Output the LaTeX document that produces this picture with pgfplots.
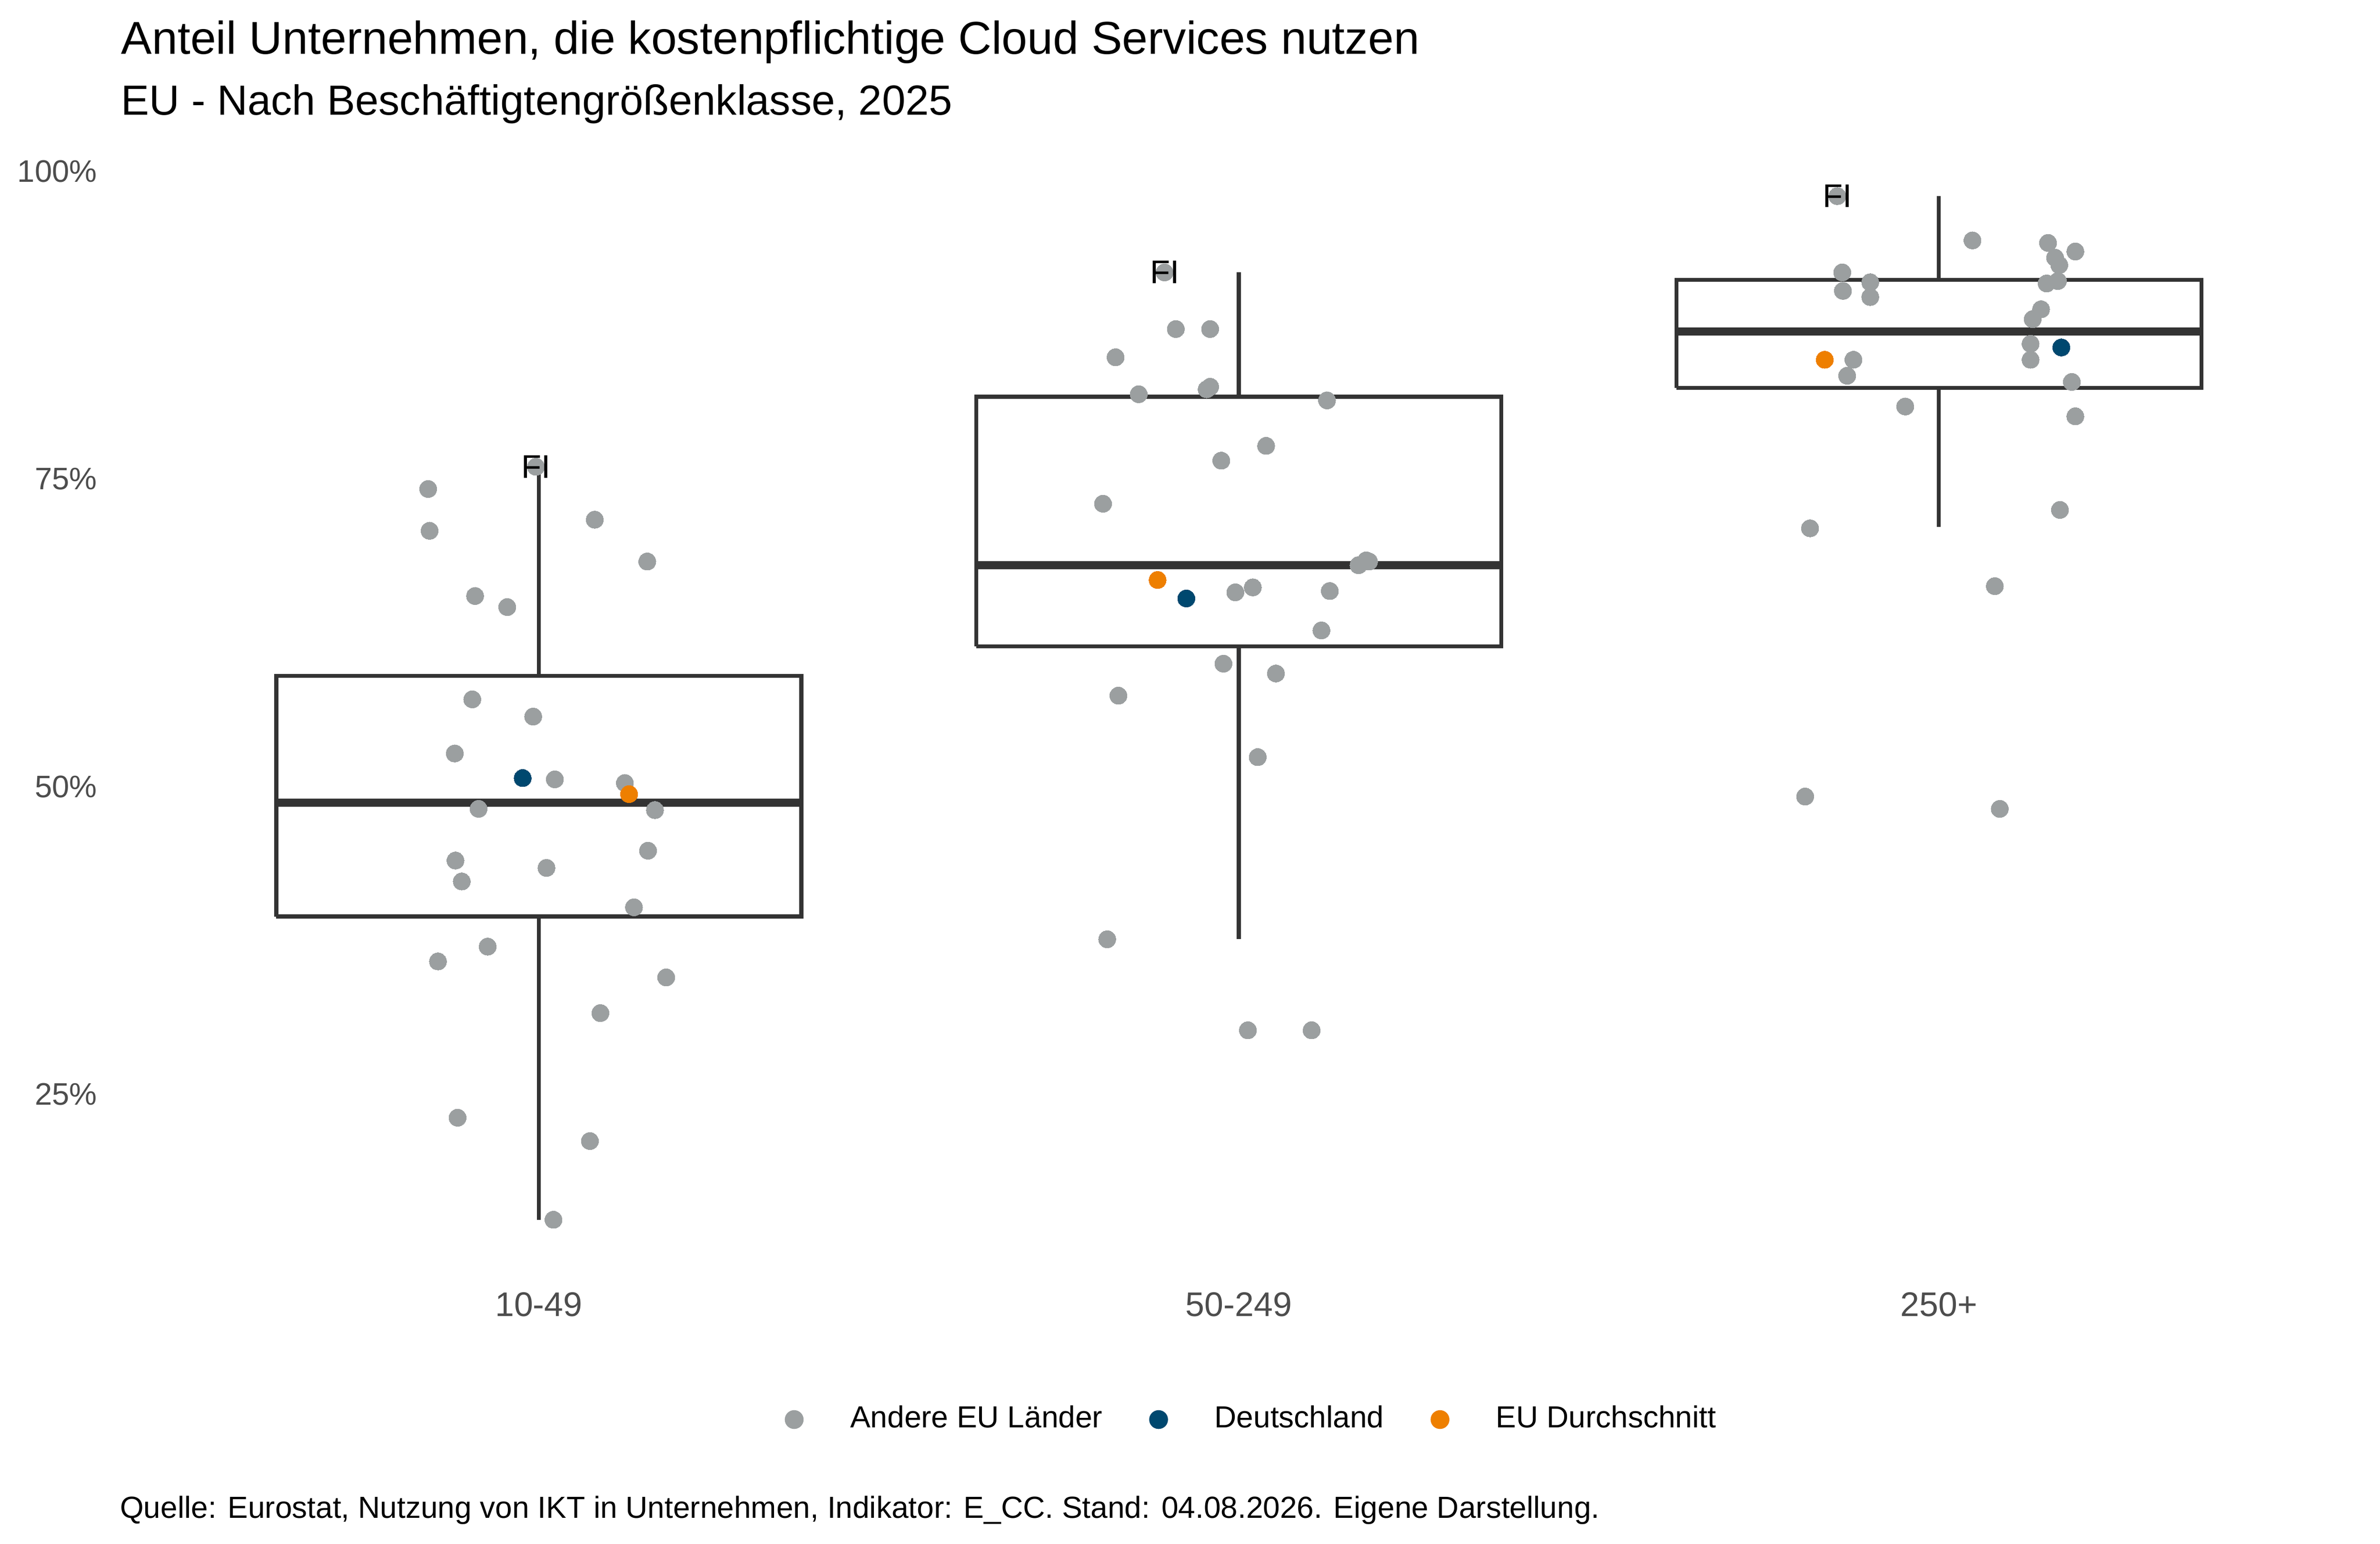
\documentclass[border=0pt]{standalone}
\usepackage{fontspec}
\setmainfont{Liberation Sans}
\usepackage{pgfplots}
\pgfplotsset{compat=1.18}
\usetikzlibrary{calc}
\definecolor{ptgrey}{HTML}{9B9FA0}
\definecolor{deblue}{HTML}{00486F}
\definecolor{euorange}{HTML}{EE7F00}
\definecolor{boxc}{HTML}{333333}
\definecolor{tickc}{HTML}{4D4D4D}
\begin{document}
\begin{tikzpicture}
\begin{axis}[
  scale only axis, width=590.336pt, height=291.84pt,
  xmin=0.4, xmax=3.6, ymin=10, ymax=100,
  clip=false,
  axis line style={draw=none}, tick style={draw=none},
  unbounded coords=jump,
  xtick={1,2,3}, xticklabels={10-49,50-249,250+},
  ytick={25,50,75,100}, yticklabels={25\%,50\%,75\%,100\%},
  xticklabel style={anchor=base, inner sep=0pt, yshift=-9.84pt, font=\fontsize{9.0}{11}\selectfont, text=tickc},
  yticklabel style={anchor=east, inner sep=0pt, xshift=-5.5pt, font=\fontsize{8.2}{10}\selectfont, text=tickc},
  legend columns=3,
  legend cell align=left,
  legend style={at={(0.5052,-0.1271)}, anchor=center, draw=none, fill=none, inner sep=0pt, outer sep=0pt, /tikz/column sep=12.28pt, nodes={inner sep=0pt, text=black}, font=\fontsize{8.03}{9.6}\selectfont},
  boxline/.style={forget plot, draw=boxc, line width=1.04pt, line join=miter, mark=none},
  medline/.style={forget plot, draw=boxc, line width=2.08pt, mark=none},
]
% boxplots: 10-49
\addplot[boxline] coordinates {(1,59.0) (1,76.0) (1,nan) (1,14.8) (1,39.45)};
\addplot[boxline] coordinates {(0.625,39.45) (1.375,39.45) (1.375,59.0) (0.625,59.0) (0.625,39.45)};
\addplot[medline] coordinates {(0.625,48.7) (1.375,48.7)};
% 50-249
\addplot[boxline] coordinates {(2,81.7) (2,91.8) (2,nan) (2,37.6) (2,61.4)};
\addplot[boxline] coordinates {(1.625,61.4) (2.375,61.4) (2.375,81.7) (1.625,81.7) (1.625,61.4)};
\addplot[medline] coordinates {(1.625,68.0) (2.375,68.0)};
% 250+
\addplot[boxline] coordinates {(3,91.2) (3,98.0) (3,nan) (3,71.1) (3,82.4)};
\addplot[boxline] coordinates {(2.625,82.4) (3.375,82.4) (3.375,91.2) (2.625,91.2) (2.625,82.4)};
\addplot[medline] coordinates {(2.625,87.0) (3.375,87.0)};
% other EU countries
\addplot[only marks, mark=*, mark size=2.28pt, color=ptgrey, mark options={line width=0pt}, legend image code/.code={\fill[ptgrey] (0pt,0pt) circle (2.28pt);}] coordinates {
(0.996,76.0) (0.842,74.2) (0.844,70.8) (1.080,71.7) (1.155,68.3) (0.909,65.5) (0.955,64.6)
(0.905,57.1) (0.992,55.7) (0.880,52.7) (1.023,50.6) (1.123,50.3) (0.914,48.2) (1.166,48.1)
(0.881,44.0) (0.890,42.3) (1.011,43.4) (1.156,44.8) (1.136,40.2) (0.856,35.8) (0.927,37.0)
(1.182,34.5) (1.088,31.6) (0.884,23.1) (1.073,21.2) (1.021,14.8)
(1.894,91.8) (1.910,87.2) (1.959,87.2) (1.824,84.9) (1.857,81.9) (1.954,82.3) (1.959,82.5)
(2.126,81.4) (2.039,77.7) (1.975,76.5) (1.806,73.0) (2.171,68.0) (2.182,68.4) (2.186,68.3)
(1.995,65.8) (2.020,66.2) (2.130,65.9) (2.118,62.7) (1.978,60.0) (2.053,59.2) (1.828,57.4)
(2.027,52.4) (1.812,37.6) (2.013,30.2) (2.104,30.2)
(2.855,98.0) (3.048,94.4) (3.156,94.2) (3.195,93.5) (3.166,93.0) (3.172,92.4) (2.862,91.8)
(2.902,91.0) (3.154,90.9) (3.170,91.1) (2.863,90.3) (2.902,89.8) (3.146,88.8) (3.134,88.0)
(3.131,86.0) (2.878,84.7) (3.131,84.7) (2.869,83.4) (3.190,82.9) (2.952,80.9) (3.195,80.1)
(3.173,72.5) (2.816,71.0) (3.080,66.3) (2.809,49.2) (3.087,48.2)
};
\addlegendentry{Andere EU Länder}
\addplot[only marks, mark=*, mark size=2.28pt, color=deblue, mark options={line width=0pt}, legend image code/.code={\fill[deblue] (0pt,0pt) circle (2.28pt);}] coordinates {
(0.977,50.7) (1.925,65.3) (3.175,85.7)
};
\addlegendentry{Deutschland}
\addplot[only marks, mark=*, mark size=2.28pt, color=euorange, mark options={line width=0pt}, legend image code/.code={\fill[euorange] (0pt,0pt) circle (2.28pt);}] coordinates {
(1.129,49.4) (1.884,66.8) (2.837,84.7)
};
\addlegendentry{EU Durchschnitt}
\coordinate (FIa) at (axis cs:0.996,76.0);
\coordinate (FIb) at (axis cs:1.894,91.8);
\coordinate (FIc) at (axis cs:2.855,98.0);
\coordinate (BL) at (axis description cs:0,0);
\end{axis}
\foreach \c in {FIa,FIb,FIc}{\node[font=\fontsize{8.64}{10}\selectfont, inner sep=0pt, text=black] at (\c) {FI};}
\node[anchor=base west, inner sep=0pt, font=\fontsize{12.14}{14}\selectfont] at ($(BL)+(0.464pt,322.8pt)$) {Anteil Unternehmen, die kostenpflichtige Cloud Services nutzen};
\node[anchor=base west, inner sep=0pt, font=\fontsize{11.1}{13}\selectfont] at ($(BL)+(0.464pt,306.76pt)$) {EU - Nach Beschäftigtengrößenklasse, 2025};
\node[anchor=base west, inner sep=0pt, font=\fontsize{8.03}{9.6}\selectfont] at ($(BL)+(0.12pt,-63.08pt)$) {Quelle: Eurostat, Nutzung von IKT in Unternehmen, Indikator: E\_CC. Stand: 04.08.2026. Eigene Darstellung.};
\pgfresetboundingbox
\useasboundingbox ($(BL)+(-31.296pt,-69.88pt)$) rectangle ($(BL)+(595.904pt,337.04pt)$);
\end{tikzpicture}
\end{document}
